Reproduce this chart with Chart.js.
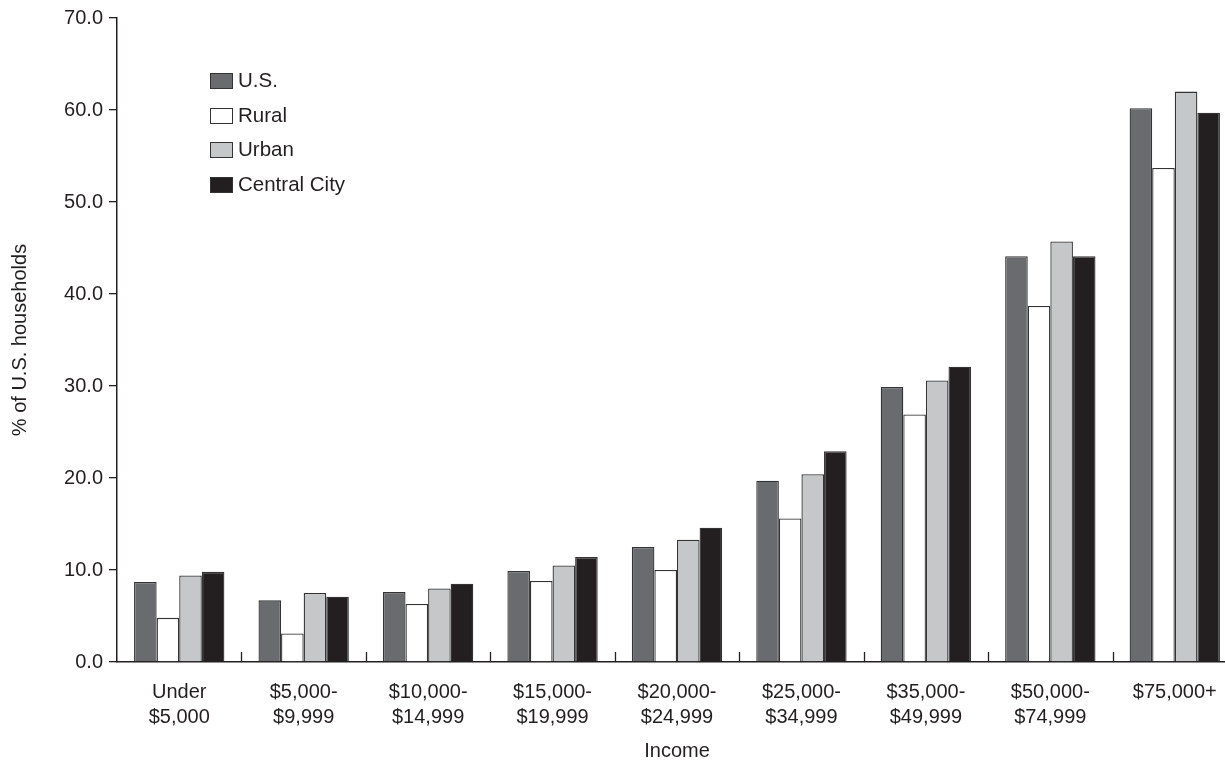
<!DOCTYPE html>
<html>
<head>
<meta charset="utf-8">
<script src="https://cdn.jsdelivr.net/npm/chart.js@4"></script>
<style>
	html, body { margin: 0; padding: 0; background: #fff; overflow: hidden; }
	/* 원본 그림은 오른쪽이 잘려 있어서 캔버스를 조금 더 넓게 잡고 잘라낸다 */
	#wrap { position: relative; width: 1225px; height: 761px; overflow: hidden; }
	#legend { position: absolute; left: 210px; top: 70px; font-family: 'Liberation Sans', Arial, sans-serif; font-size: 20.5px; color: #231f20; }
	#legend div { height: 34.5px; display: flex; align-items: flex-start; line-height: 20px; }
	#legend span.box { display: inline-block; width: 21px; height: 14px; border: 1px solid #333; margin-right: 5px; margin-top: 3px; }
</style>
</head>
<body>
<div id="wrap">
	<canvas id="incomeChart" width="1237" height="761"></canvas>
	<div id="legend"></div>
</div>
<script>
// 데이터
var categories = [
	['Under', '$5,000'], ['$5,000-', '$9,999'], ['$10,000-', '$14,999'],
	['$15,000-', '$19,999'], ['$20,000-', '$24,999'], ['$25,000-', '$34,999'],
	['$35,000-', '$49,999'], ['$50,000-', '$74,999'], ['$75,000+']
];
var seriesNames = ['U.S.', 'Rural', 'Urban', 'Central City'];
var usValues      = [8.7, 6.7, 7.6, 9.9, 12.5, 19.7, 29.9, 44.1, 60.2];
var ruralValues   = [4.8, 3.1, 6.3, 8.8, 10.0, 15.6, 26.9, 38.7, 53.7];
var urbanValues   = [9.4, 7.5, 8.0, 10.5, 13.3, 20.4, 30.6, 45.7, 62.0];
var centralValues = [9.8, 7.1, 8.5, 11.4, 14.6, 22.9, 32.1, 44.1, 59.7];
var yTicks = [0, 10, 20, 30, 40, 50, 60, 70];

var fills = ['#6a6b6f', '#ffffff', '#c6c7c9', '#231f20'];
var ink = '#231f20';
var font = 'Liberation Sans';

// x축 안쪽 눈금 (카테고리 경계)
var innerTicks = {
	id: 'innerTicks',
	afterDraw: function(chart) {
		var x = chart.scales.x, ctx = chart.ctx, bottom = chart.chartArea.bottom;
		ctx.save();
		ctx.strokeStyle = ink;
		ctx.lineWidth = 1.3;
		for (var i = 0; i < categories.length - 1; i++) {
			var px = Math.round((x.getPixelForValue(i) + x.getPixelForValue(i + 1)) / 2) + 0.5;
			ctx.beginPath();
			ctx.moveTo(px, bottom);
			ctx.lineTo(px, bottom - 10);
			ctx.stroke();
		}
		ctx.restore();
	}
};

var allValues = [usValues, ruralValues, urbanValues, centralValues];
var datasets = seriesNames.map(function(name, i) {
	return {
		label: name,
		data: allValues[i],
		backgroundColor: fills[i],
		borderColor: '#333333',
		borderWidth: 1.3,
		barPercentage: 1,
		categoryPercentage: 0.726
	};
});

var chartArea = document.getElementById('incomeChart').getContext('2d');
var myChart = new Chart(chartArea, {
	type: 'bar',
	data: { labels: categories, datasets: datasets },
	plugins: [innerTicks],
	options: {
		responsive: false,
		animation: false,
		layout: { padding: { top: 16, right: 0, left: 0, bottom: 0 } },
		plugins: { legend: { display: false }, tooltip: { enabled: false } },
		scales: {
			x: {
				grid: { display: false },
				border: { display: true, color: ink, width: 1.5 },
				ticks: { color: ink, font: { family: font, size: 20, lineHeight: 1.25 }, padding: 10, maxRotation: 0, autoSkip: false },
				title: { display: true, text: 'Income', color: ink, font: { family: font, size: 20, lineHeight: 1 }, padding: { top: 0, bottom: 0 } },
				afterFit: function(s) { s.height = 99; }
			},
			y: {
				min: 0,
				max: 70,
				afterBuildTicks: function(s) { s.ticks = yTicks.map(function(v) { return { value: v }; }); },
				grid: { drawOnChartArea: false, tickLength: 8, color: ink, lineWidth: 1.3 },
				border: { display: true, color: ink, width: 1.5 },
				ticks: { color: ink, font: { family: font, size: 20 }, padding: 6,
					callback: function(v) { return Number(v).toFixed(1); } },
				title: { display: true, text: '% of U.S. households', color: ink, font: { family: font, size: 20, lineHeight: 1 }, padding: { top: 10, bottom: 4 } },
				afterFit: function(s) { s.width = 117; }
			}
		}
	}
});

// 범례
var legend = document.getElementById('legend');
seriesNames.forEach(function(name, i) {
	var row = document.createElement('div');
	row.innerHTML = '<span class="box" style="background:' + fills[i] + '"></span>' + name;
	legend.appendChild(row);
});
</script>
</body>
</html>
